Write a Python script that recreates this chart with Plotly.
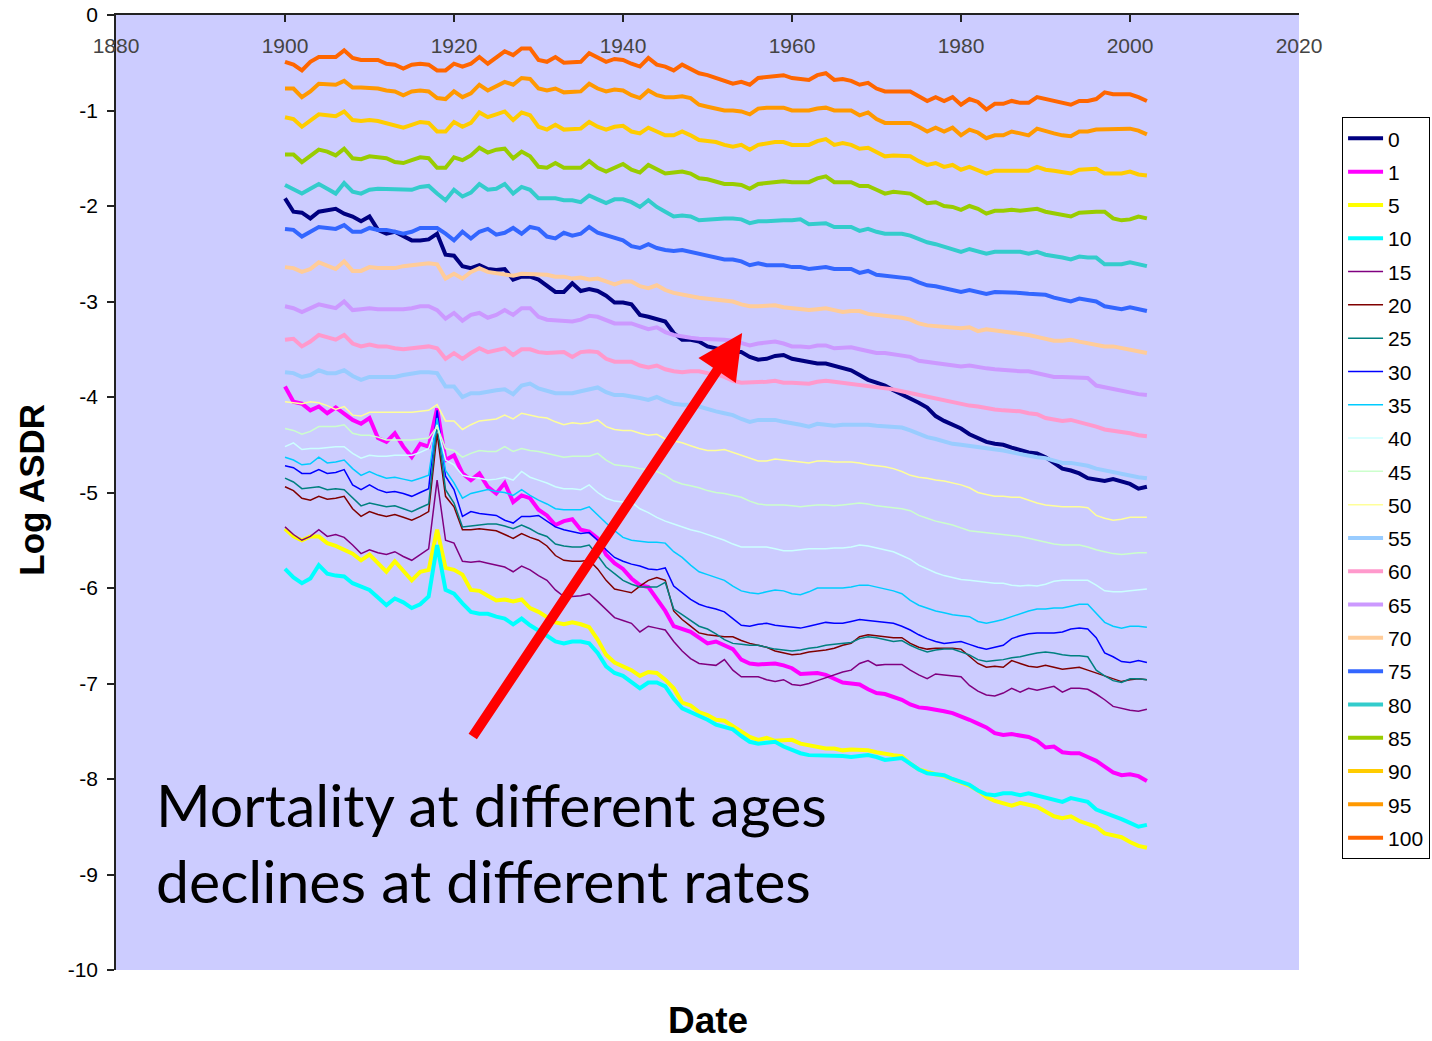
import plotly.graph_objects as go

# Calendar years covered by every series
years = list(range(1900, 2003))

# Log age-specific death rates (one list per age), 1900-2002
asdr_age0 = [
    -1.92, -2.06, -2.07, -2.13, -2.06, -2.04, -2.03, -2.08, -2.11, -2.16,
    -2.11, -2.25, -2.29, -2.27, -2.32, -2.36, -2.36, -2.35, -2.29, -2.51,
    -2.52, -2.63, -2.65, -2.62, -2.66, -2.67, -2.66, -2.77, -2.74, -2.74,
    -2.77, -2.83, -2.90, -2.90, -2.81, -2.89, -2.87, -2.89, -2.94, -3.01,
    -3.01, -3.03, -3.14, -3.16, -3.18, -3.21, -3.33, -3.40, -3.40, -3.42,
    -3.47, -3.49, -3.52, -3.53, -3.53, -3.58, -3.61, -3.60, -3.57, -3.56,
    -3.60, -3.62, -3.64, -3.65, -3.65, -3.67, -3.69, -3.72, -3.77, -3.82,
    -3.85, -3.88, -3.93, -3.97, -4.01, -4.06, -4.11, -4.20, -4.25, -4.29,
    -4.33, -4.39, -4.43, -4.47, -4.49, -4.50, -4.53, -4.56, -4.58, -4.59,
    -4.63, -4.69, -4.75, -4.77, -4.80, -4.85, -4.87, -4.88, -4.86, -4.88,
    -4.91, -4.96, -4.94,
]
asdr_age1 = [
    -3.89, -4.05, -4.07, -4.14, -4.10, -4.17, -4.11, -4.17, -4.24, -4.28,
    -4.22, -4.43, -4.47, -4.38, -4.52, -4.63, -4.49, -4.52, -4.12, -4.66,
    -4.61, -4.80, -4.87, -4.80, -4.94, -5.01, -4.90, -5.10, -5.03, -5.06,
    -5.18, -5.24, -5.34, -5.30, -5.28, -5.39, -5.41, -5.48, -5.65, -5.74,
    -5.80, -5.90, -5.97, -5.99, -6.11, -6.24, -6.40, -6.43, -6.46, -6.52,
    -6.58, -6.56, -6.60, -6.64, -6.75, -6.79, -6.80, -6.79, -6.79, -6.81,
    -6.84, -6.90, -6.90, -6.89, -6.91, -6.95, -6.99, -7.00, -7.01, -7.06,
    -7.10, -7.11, -7.14, -7.17, -7.22, -7.25, -7.26, -7.27, -7.29, -7.31,
    -7.34, -7.38, -7.42, -7.46, -7.52, -7.54, -7.53, -7.54, -7.56, -7.60,
    -7.67, -7.66, -7.72, -7.73, -7.73, -7.77, -7.81, -7.87, -7.93, -7.96,
    -7.95, -7.97, -8.02,
]
asdr_age5 = [
    -5.38, -5.46, -5.50, -5.46, -5.46, -5.53, -5.56, -5.60, -5.64, -5.71,
    -5.65, -5.74, -5.83, -5.72, -5.82, -5.92, -5.83, -5.81, -5.39, -5.79,
    -5.81, -5.86, -6.02, -6.03, -6.08, -6.13, -6.12, -6.14, -6.12, -6.21,
    -6.25, -6.31, -6.36, -6.38, -6.36, -6.38, -6.41, -6.54, -6.70, -6.78,
    -6.82, -6.86, -6.92, -6.88, -6.89, -6.96, -7.05, -7.20, -7.23, -7.30,
    -7.33, -7.38, -7.39, -7.45, -7.51, -7.56, -7.59, -7.57, -7.60, -7.60,
    -7.59, -7.63, -7.65, -7.67, -7.68, -7.68, -7.70, -7.69, -7.69, -7.70,
    -7.72, -7.74, -7.75, -7.76, -7.84, -7.90, -7.93, -7.95, -7.97, -8.00,
    -8.03, -8.07, -8.12, -8.19, -8.23, -8.26, -8.28, -8.25, -8.27, -8.29,
    -8.34, -8.39, -8.41, -8.39, -8.44, -8.47, -8.50, -8.57, -8.59, -8.61,
    -8.66, -8.70, -8.72,
]
asdr_age10 = [
    -5.80, -5.89, -5.95, -5.90, -5.76, -5.85, -5.87, -5.88, -5.95, -5.99,
    -6.02, -6.10, -6.18, -6.11, -6.15, -6.21, -6.17, -6.09, -5.55, -6.02,
    -6.06, -6.16, -6.25, -6.27, -6.27, -6.30, -6.32, -6.38, -6.32, -6.39,
    -6.44, -6.50, -6.56, -6.58, -6.56, -6.56, -6.58, -6.68, -6.82, -6.89,
    -6.92, -6.98, -7.05, -6.99, -6.99, -7.03, -7.16, -7.26, -7.30, -7.33,
    -7.38, -7.43, -7.45, -7.48, -7.55, -7.61, -7.63, -7.62, -7.61, -7.66,
    -7.70, -7.73, -7.75, -7.75, -7.76, -7.76, -7.76, -7.77, -7.76, -7.75,
    -7.77, -7.80, -7.79, -7.78, -7.84, -7.90, -7.94, -7.95, -7.96, -8.00,
    -8.03, -8.06, -8.12, -8.16, -8.17, -8.15, -8.15, -8.17, -8.15, -8.17,
    -8.20, -8.22, -8.24, -8.20, -8.22, -8.24, -8.32, -8.35, -8.38, -8.42,
    -8.46, -8.50, -8.48,
]
asdr_age15 = [
    -5.36, -5.44, -5.50, -5.46, -5.39, -5.46, -5.44, -5.47, -5.55, -5.64,
    -5.60, -5.63, -5.65, -5.62, -5.67, -5.71, -5.65, -5.59, -4.87, -5.50,
    -5.53, -5.72, -5.73, -5.72, -5.74, -5.76, -5.78, -5.83, -5.77, -5.81,
    -5.87, -5.92, -6.02, -6.09, -6.09, -6.08, -6.06, -6.14, -6.23, -6.31,
    -6.34, -6.37, -6.46, -6.40, -6.42, -6.44, -6.56, -6.66, -6.74, -6.79,
    -6.80, -6.81, -6.75, -6.86, -6.93, -6.93, -6.93, -6.96, -6.98, -6.96,
    -7.01, -7.02, -7.00, -6.97, -6.94, -6.91, -6.88, -6.86, -6.79, -6.76,
    -6.81, -6.80, -6.80, -6.80, -6.86, -6.91, -6.95, -6.90, -6.91, -6.92,
    -6.93, -7.02, -7.08, -7.12, -7.13, -7.10, -7.05, -7.09, -7.05, -7.07,
    -7.05, -7.03, -7.09, -7.05, -7.05, -7.06, -7.11, -7.17, -7.24, -7.26,
    -7.28, -7.29, -7.27,
]
asdr_age20 = [
    -4.94, -4.98, -5.06, -5.08, -5.04, -5.07, -5.06, -5.04, -5.17, -5.25,
    -5.20, -5.23, -5.25, -5.23, -5.26, -5.29, -5.25, -5.20, -4.38, -5.04,
    -5.15, -5.39, -5.39, -5.38, -5.39, -5.40, -5.44, -5.48, -5.43, -5.47,
    -5.50, -5.56, -5.66, -5.71, -5.72, -5.72, -5.71, -5.80, -5.92, -6.01,
    -6.03, -6.05, -5.98, -5.92, -5.89, -5.92, -6.24, -6.33, -6.40, -6.47,
    -6.49, -6.50, -6.51, -6.51, -6.55, -6.58, -6.60, -6.62, -6.66, -6.68,
    -6.70, -6.69, -6.67, -6.66, -6.65, -6.63, -6.60, -6.58, -6.51, -6.49,
    -6.50, -6.51, -6.52, -6.52, -6.58, -6.62, -6.64, -6.63, -6.63, -6.63,
    -6.64, -6.72, -6.79, -6.83, -6.82, -6.83, -6.76, -6.79, -6.82, -6.83,
    -6.81, -6.83, -6.85, -6.84, -6.83, -6.86, -6.89, -6.92, -6.95, -6.98,
    -6.96, -6.95, -6.96,
]
asdr_age25 = [
    -4.85, -4.89, -4.96, -4.95, -4.94, -4.97, -4.96, -4.97, -5.06, -5.14,
    -5.11, -5.13, -5.15, -5.14, -5.17, -5.20, -5.16, -5.12, -4.28, -4.97,
    -5.11, -5.36, -5.35, -5.34, -5.33, -5.33, -5.35, -5.38, -5.34, -5.38,
    -5.43, -5.46, -5.54, -5.56, -5.57, -5.57, -5.55, -5.66, -5.78, -5.85,
    -5.92, -5.96, -5.99, -5.99, -5.99, -5.94, -6.22, -6.28, -6.34, -6.40,
    -6.43, -6.48, -6.54, -6.58, -6.59, -6.60, -6.60, -6.62, -6.64, -6.65,
    -6.66, -6.65, -6.63, -6.62, -6.60, -6.59, -6.58, -6.57, -6.53, -6.51,
    -6.52, -6.54, -6.56, -6.55, -6.60, -6.64, -6.67, -6.65, -6.64, -6.64,
    -6.67, -6.70, -6.75, -6.77, -6.76, -6.75, -6.73, -6.72, -6.70, -6.68,
    -6.67, -6.68, -6.70, -6.71, -6.71, -6.72, -6.86, -6.92, -6.97, -6.99,
    -6.95, -6.95, -6.96,
]
asdr_age30 = [
    -4.72, -4.74, -4.80, -4.80, -4.76, -4.80, -4.79, -4.76, -4.92, -4.97,
    -4.92, -4.97, -5.00, -4.99, -5.01, -5.04, -5.00, -4.96, -4.14, -4.83,
    -4.97, -5.25, -5.20, -5.22, -5.23, -5.24, -5.29, -5.32, -5.25, -5.25,
    -5.24, -5.30, -5.36, -5.39, -5.41, -5.43, -5.42, -5.50, -5.60, -5.68,
    -5.72, -5.75, -5.77, -5.80, -5.81, -5.79, -5.98, -6.05, -6.12, -6.17,
    -6.20, -6.22, -6.25, -6.32, -6.39, -6.40, -6.38, -6.37, -6.39, -6.40,
    -6.41, -6.42, -6.40, -6.38, -6.36, -6.37, -6.37, -6.35, -6.33, -6.34,
    -6.35, -6.36, -6.37, -6.40, -6.44, -6.49, -6.53, -6.56, -6.58, -6.57,
    -6.56, -6.59, -6.62, -6.64, -6.62, -6.60, -6.53, -6.50, -6.48, -6.47,
    -6.47, -6.47, -6.46, -6.43, -6.42, -6.43, -6.52, -6.68, -6.72, -6.77,
    -6.78, -6.76, -6.78,
]
asdr_age35 = [
    -4.63, -4.66, -4.71, -4.70, -4.63, -4.69, -4.68, -4.66, -4.75, -4.82,
    -4.78, -4.82, -4.85, -4.84, -4.86, -4.88, -4.85, -4.82, -4.22, -4.77,
    -4.90, -5.06, -5.01, -4.99, -4.97, -4.99, -5.00, -5.03, -4.97, -5.03,
    -5.08, -5.12, -5.17, -5.18, -5.18, -5.18, -5.15, -5.24, -5.32, -5.40,
    -5.47, -5.50, -5.51, -5.52, -5.52, -5.53, -5.62, -5.68, -5.76, -5.83,
    -5.86, -5.89, -5.92, -5.98, -6.03, -6.05, -6.06, -6.04, -6.02, -6.03,
    -6.06, -6.07, -6.04, -6.00, -6.00, -6.00, -6.00, -5.99, -5.97, -5.97,
    -5.99, -6.01, -6.03, -6.06, -6.13, -6.18, -6.21, -6.24, -6.26, -6.28,
    -6.29, -6.30, -6.35, -6.37, -6.35, -6.33, -6.30, -6.27, -6.24, -6.22,
    -6.22, -6.21, -6.21, -6.19, -6.17, -6.17, -6.26, -6.36, -6.40, -6.42,
    -6.40, -6.40, -6.41,
]
asdr_age40 = [
    -4.52, -4.48, -4.55, -4.54, -4.54, -4.53, -4.52, -4.52, -4.59, -4.64,
    -4.61, -4.62, -4.62, -4.61, -4.61, -4.61, -4.58, -4.54, -4.29, -4.66,
    -4.71, -4.82, -4.84, -4.85, -4.87, -4.86, -4.84, -4.87, -4.78, -4.84,
    -4.87, -4.90, -4.94, -4.96, -4.96, -4.97, -4.92, -5.00, -5.06, -5.09,
    -5.10, -5.10, -5.17, -5.21, -5.26, -5.30, -5.33, -5.36, -5.39, -5.41,
    -5.44, -5.47, -5.50, -5.54, -5.57, -5.57, -5.57, -5.57, -5.59, -5.61,
    -5.61, -5.60, -5.59, -5.59, -5.59, -5.58, -5.58, -5.57, -5.55, -5.56,
    -5.58, -5.60, -5.62, -5.66, -5.70, -5.76, -5.80, -5.84, -5.87, -5.89,
    -5.91, -5.92, -5.93, -5.94, -5.95, -5.95, -5.97, -5.98, -5.97, -5.98,
    -5.96, -5.93, -5.92, -5.92, -5.92, -5.92, -5.97, -6.03, -6.04, -6.04,
    -6.03, -6.02, -6.01,
]
asdr_age45 = [
    -4.33, -4.35, -4.39, -4.36, -4.31, -4.31, -4.31, -4.29, -4.38, -4.40,
    -4.40, -4.42, -4.45, -4.45, -4.45, -4.45, -4.44, -4.43, -4.31, -4.54,
    -4.56, -4.63, -4.59, -4.56, -4.57, -4.57, -4.52, -4.57, -4.54, -4.56,
    -4.57, -4.59, -4.61, -4.63, -4.62, -4.62, -4.62, -4.59, -4.66, -4.71,
    -4.72, -4.73, -4.75, -4.76, -4.78, -4.82, -4.88, -4.91, -4.93, -4.95,
    -4.98, -5.00, -5.01, -5.03, -5.05, -5.09, -5.12, -5.13, -5.13, -5.13,
    -5.14, -5.15, -5.14, -5.13, -5.13, -5.14, -5.13, -5.12, -5.11, -5.12,
    -5.14, -5.15, -5.16, -5.17, -5.19, -5.24, -5.27, -5.30, -5.32, -5.34,
    -5.37, -5.40, -5.41, -5.42, -5.43, -5.44, -5.45, -5.46, -5.48, -5.50,
    -5.52, -5.54, -5.55, -5.55, -5.55, -5.57, -5.60, -5.62, -5.64, -5.65,
    -5.64, -5.63, -5.63,
]
asdr_age50 = [
    -4.05, -4.06, -4.07, -4.05, -4.06, -4.09, -4.13, -4.10, -4.19, -4.20,
    -4.16, -4.16, -4.16, -4.16, -4.16, -4.16, -4.15, -4.14, -4.08, -4.25,
    -4.25, -4.34, -4.29, -4.25, -4.24, -4.23, -4.19, -4.23, -4.17, -4.19,
    -4.21, -4.22, -4.26, -4.29, -4.27, -4.28, -4.27, -4.24, -4.31, -4.34,
    -4.35, -4.35, -4.38, -4.40, -4.39, -4.44, -4.46, -4.48, -4.51, -4.54,
    -4.56, -4.56, -4.55, -4.58, -4.61, -4.64, -4.67, -4.67, -4.65, -4.66,
    -4.67, -4.68, -4.69, -4.67, -4.67, -4.68, -4.68, -4.68, -4.69, -4.71,
    -4.72, -4.73, -4.75, -4.78, -4.82, -4.84, -4.85, -4.87, -4.88, -4.90,
    -4.92, -4.95, -5.00, -5.02, -5.04, -5.04, -5.05, -5.05, -5.08, -5.11,
    -5.13, -5.14, -5.15, -5.15, -5.15, -5.16, -5.24, -5.27, -5.29, -5.28,
    -5.26, -5.26, -5.26,
]
asdr_age55 = [
    -3.74, -3.75, -3.79, -3.77, -3.72, -3.75, -3.75, -3.72, -3.78, -3.82,
    -3.79, -3.79, -3.79, -3.79, -3.77, -3.75, -3.74, -3.74, -3.75, -3.89,
    -3.89, -4.00, -3.96, -3.96, -3.94, -3.93, -3.92, -3.97, -3.88, -3.86,
    -3.91, -3.93, -3.96, -3.96, -3.96, -3.94, -3.92, -3.90, -3.95, -3.98,
    -3.98, -3.99, -4.01, -4.03, -4.00, -4.04, -4.07, -4.08, -4.08, -4.10,
    -4.13, -4.15, -4.17, -4.19, -4.23, -4.26, -4.24, -4.24, -4.24, -4.26,
    -4.27, -4.29, -4.31, -4.28, -4.29, -4.30, -4.29, -4.29, -4.28, -4.29,
    -4.30, -4.31, -4.32, -4.32, -4.35, -4.39, -4.42, -4.44, -4.47, -4.49,
    -4.50, -4.51, -4.52, -4.54, -4.55, -4.56, -4.58, -4.60, -4.61, -4.63,
    -4.64, -4.67, -4.69, -4.69, -4.70, -4.72, -4.75, -4.77, -4.79, -4.80,
    -4.82, -4.84, -4.85,
]
asdr_age60 = [
    -3.40, -3.39, -3.47, -3.42, -3.35, -3.38, -3.40, -3.35, -3.44, -3.47,
    -3.45, -3.47, -3.47, -3.49, -3.50, -3.49, -3.48, -3.47, -3.49, -3.60,
    -3.54, -3.60, -3.54, -3.49, -3.53, -3.51, -3.49, -3.56, -3.50, -3.50,
    -3.53, -3.54, -3.54, -3.53, -3.58, -3.53, -3.52, -3.53, -3.60, -3.63,
    -3.63, -3.63, -3.67, -3.69, -3.67, -3.71, -3.73, -3.74, -3.73, -3.73,
    -3.75, -3.76, -3.79, -3.83, -3.85, -3.85, -3.85, -3.84, -3.83, -3.85,
    -3.85, -3.86, -3.86, -3.84, -3.83, -3.84, -3.85, -3.86, -3.87, -3.88,
    -3.89, -3.91, -3.92, -3.94, -3.96, -3.98, -4.00, -4.01, -4.03, -4.06,
    -4.08, -4.09, -4.10, -4.12, -4.13, -4.14, -4.14, -4.15, -4.17, -4.18,
    -4.22, -4.24, -4.25, -4.24, -4.26, -4.28, -4.31, -4.34, -4.35, -4.36,
    -4.38, -4.40, -4.41,
]
asdr_age65 = [
    -3.05, -3.07, -3.11, -3.07, -3.03, -3.05, -3.07, -3.00, -3.09, -3.08,
    -3.07, -3.08, -3.08, -3.09, -3.08, -3.07, -3.05, -3.05, -3.09, -3.18,
    -3.12, -3.20, -3.14, -3.12, -3.17, -3.14, -3.09, -3.14, -3.07, -3.07,
    -3.16, -3.19, -3.20, -3.21, -3.21, -3.19, -3.15, -3.16, -3.20, -3.23,
    -3.23, -3.23, -3.26, -3.29, -3.27, -3.32, -3.35, -3.37, -3.38, -3.39,
    -3.39, -3.40, -3.40, -3.41, -3.43, -3.46, -3.44, -3.43, -3.42, -3.44,
    -3.47, -3.47, -3.48, -3.46, -3.46, -3.49, -3.48, -3.48, -3.50, -3.52,
    -3.54, -3.54, -3.55, -3.56, -3.58, -3.62, -3.63, -3.65, -3.65, -3.66,
    -3.68, -3.67, -3.69, -3.70, -3.71, -3.72, -3.73, -3.73, -3.73, -3.75,
    -3.77, -3.79, -3.79, -3.79, -3.79, -3.80, -3.88, -3.90, -3.92, -3.93,
    -3.95, -3.97, -3.98,
]
asdr_age70 = [
    -2.64, -2.65, -2.69, -2.66, -2.59, -2.63, -2.66, -2.58, -2.68, -2.68,
    -2.64, -2.65, -2.65, -2.65, -2.63, -2.62, -2.61, -2.60, -2.61, -2.76,
    -2.71, -2.76, -2.69, -2.65, -2.69, -2.70, -2.71, -2.73, -2.71, -2.71,
    -2.72, -2.72, -2.74, -2.74, -2.76, -2.75, -2.77, -2.76, -2.79, -2.82,
    -2.79, -2.79, -2.84, -2.86, -2.83, -2.88, -2.91, -2.93, -2.94, -2.96,
    -2.97, -2.98, -2.99, -3.00, -3.03, -3.05, -3.05, -3.04, -3.04, -3.06,
    -3.07, -3.08, -3.09, -3.08, -3.07, -3.09, -3.11, -3.10, -3.10, -3.13,
    -3.14, -3.15, -3.15, -3.17, -3.19, -3.23, -3.25, -3.26, -3.27, -3.28,
    -3.28, -3.27, -3.31, -3.29, -3.30, -3.31, -3.32, -3.33, -3.35, -3.37,
    -3.39, -3.41, -3.41, -3.40, -3.42, -3.44, -3.46, -3.47, -3.47, -3.49,
    -3.51, -3.53, -3.54,
]
asdr_age75 = [
    -2.24, -2.25, -2.32, -2.27, -2.22, -2.23, -2.24, -2.20, -2.27, -2.27,
    -2.23, -2.25, -2.25, -2.27, -2.29, -2.27, -2.23, -2.23, -2.23, -2.29,
    -2.36, -2.27, -2.34, -2.27, -2.24, -2.30, -2.28, -2.23, -2.29, -2.22,
    -2.24, -2.32, -2.34, -2.28, -2.31, -2.29, -2.22, -2.28, -2.31, -2.33,
    -2.36, -2.42, -2.44, -2.40, -2.44, -2.46, -2.47, -2.46, -2.48, -2.50,
    -2.51, -2.54, -2.56, -2.56, -2.58, -2.62, -2.60, -2.62, -2.62, -2.62,
    -2.64, -2.64, -2.66, -2.65, -2.64, -2.66, -2.66, -2.66, -2.70, -2.68,
    -2.72, -2.73, -2.74, -2.74, -2.76, -2.80, -2.83, -2.84, -2.86, -2.87,
    -2.90, -2.88, -2.90, -2.92, -2.90, -2.90, -2.90, -2.91, -2.92, -2.92,
    -2.93, -2.96, -2.98, -3.00, -2.97, -2.98, -3.00, -3.05, -3.07, -3.08,
    -3.06, -3.08, -3.10,
]
asdr_age80 = [
    -1.78, -1.82, -1.87, -1.82, -1.77, -1.82, -1.87, -1.76, -1.85, -1.87,
    -1.83, -1.82, -1.82, -1.83, -1.83, -1.83, -1.80, -1.79, -1.87, -1.94,
    -1.83, -1.90, -1.86, -1.77, -1.83, -1.82, -1.77, -1.87, -1.80, -1.83,
    -1.92, -1.92, -1.92, -1.94, -1.94, -1.96, -1.89, -1.93, -1.97, -1.93,
    -1.93, -1.96, -2.01, -1.94, -2.01, -2.06, -2.11, -2.10, -2.11, -2.15,
    -2.14, -2.13, -2.13, -2.13, -2.14, -2.18, -2.16, -2.16, -2.15, -2.15,
    -2.15, -2.14, -2.19, -2.19, -2.18, -2.22, -2.22, -2.22, -2.26, -2.24,
    -2.27, -2.29, -2.29, -2.29, -2.31, -2.35, -2.38, -2.40, -2.43, -2.45,
    -2.48, -2.45, -2.48, -2.50, -2.48, -2.48, -2.48, -2.48, -2.50, -2.48,
    -2.51, -2.52, -2.54, -2.56, -2.53, -2.54, -2.54, -2.61, -2.61, -2.61,
    -2.59, -2.61, -2.63,
]
asdr_age85 = [
    -1.46, -1.46, -1.54, -1.48, -1.41, -1.43, -1.47, -1.40, -1.50, -1.51,
    -1.48, -1.49, -1.50, -1.54, -1.55, -1.52, -1.49, -1.50, -1.60, -1.60,
    -1.49, -1.52, -1.47, -1.39, -1.44, -1.41, -1.40, -1.50, -1.43, -1.48,
    -1.59, -1.60, -1.55, -1.60, -1.60, -1.60, -1.53, -1.60, -1.64, -1.60,
    -1.56, -1.62, -1.65, -1.57, -1.62, -1.66, -1.65, -1.64, -1.66, -1.71,
    -1.72, -1.74, -1.77, -1.77, -1.78, -1.82, -1.77, -1.76, -1.75, -1.74,
    -1.75, -1.75, -1.75, -1.71, -1.69, -1.75, -1.75, -1.75, -1.79, -1.79,
    -1.83, -1.87, -1.85, -1.86, -1.87, -1.92, -1.97, -1.96, -2.00, -2.01,
    -2.04, -2.00, -2.03, -2.08, -2.05, -2.05, -2.04, -2.05, -2.04, -2.03,
    -2.06, -2.08, -2.09, -2.11, -2.07, -2.06, -2.06, -2.06, -2.13, -2.15,
    -2.14, -2.11, -2.13,
]
asdr_age90 = [
    -1.07, -1.09, -1.17, -1.10, -1.04, -1.05, -1.06, -1.01, -1.10, -1.11,
    -1.10, -1.11, -1.13, -1.15, -1.18, -1.15, -1.12, -1.13, -1.22, -1.22,
    -1.12, -1.17, -1.13, -1.02, -1.07, -1.04, -1.01, -1.10, -1.02, -1.05,
    -1.17, -1.20, -1.15, -1.20, -1.20, -1.19, -1.12, -1.17, -1.20, -1.17,
    -1.16, -1.22, -1.24, -1.18, -1.22, -1.26, -1.26, -1.22, -1.26, -1.31,
    -1.32, -1.33, -1.36, -1.38, -1.36, -1.41, -1.36, -1.34, -1.33, -1.33,
    -1.36, -1.36, -1.36, -1.32, -1.30, -1.36, -1.34, -1.36, -1.40, -1.39,
    -1.44, -1.48, -1.47, -1.48, -1.48, -1.53, -1.57, -1.55, -1.59, -1.57,
    -1.62, -1.59, -1.62, -1.66, -1.63, -1.63, -1.62, -1.62, -1.63, -1.59,
    -1.62, -1.63, -1.64, -1.66, -1.62, -1.62, -1.61, -1.66, -1.66, -1.66,
    -1.64, -1.67, -1.68,
]
asdr_age95 = [
    -0.77, -0.77, -0.86, -0.80, -0.72, -0.72, -0.73, -0.69, -0.76, -0.76,
    -0.76, -0.77, -0.79, -0.80, -0.84, -0.80, -0.79, -0.80, -0.87, -0.88,
    -0.80, -0.86, -0.82, -0.73, -0.79, -0.75, -0.70, -0.73, -0.66, -0.67,
    -0.77, -0.79, -0.77, -0.81, -0.81, -0.80, -0.72, -0.77, -0.80, -0.78,
    -0.79, -0.84, -0.87, -0.79, -0.84, -0.86, -0.86, -0.85, -0.87, -0.94,
    -0.96, -0.98, -1.00, -1.00, -1.01, -1.04, -0.98, -0.97, -0.97, -0.97,
    -1.00, -1.00, -1.00, -0.98, -0.97, -1.00, -1.00, -1.00, -1.05, -1.02,
    -1.09, -1.13, -1.13, -1.13, -1.13, -1.17, -1.22, -1.18, -1.22, -1.18,
    -1.26, -1.20, -1.23, -1.29, -1.26, -1.26, -1.22, -1.24, -1.26, -1.19,
    -1.22, -1.24, -1.26, -1.27, -1.22, -1.22, -1.20, -1.20, -1.20, -1.20,
    -1.19, -1.21, -1.25,
]
asdr_age100 = [
    -0.49, -0.52, -0.58, -0.49, -0.44, -0.44, -0.44, -0.37, -0.45, -0.47,
    -0.47, -0.47, -0.51, -0.52, -0.56, -0.52, -0.51, -0.52, -0.58, -0.58,
    -0.51, -0.54, -0.51, -0.44, -0.51, -0.45, -0.38, -0.42, -0.35, -0.35,
    -0.47, -0.49, -0.44, -0.50, -0.50, -0.49, -0.40, -0.45, -0.49, -0.46,
    -0.47, -0.51, -0.54, -0.45, -0.52, -0.54, -0.58, -0.52, -0.56, -0.61,
    -0.63, -0.66, -0.69, -0.72, -0.70, -0.73, -0.66, -0.65, -0.63, -0.63,
    -0.66, -0.67, -0.68, -0.63, -0.61, -0.68, -0.67, -0.69, -0.73, -0.71,
    -0.77, -0.80, -0.80, -0.80, -0.80, -0.85, -0.90, -0.86, -0.90, -0.86,
    -0.94, -0.88, -0.91, -0.99, -0.93, -0.93, -0.90, -0.92, -0.92, -0.86,
    -0.88, -0.91, -0.93, -0.94, -0.90, -0.90, -0.88, -0.81, -0.83, -0.83,
    -0.83, -0.86, -0.90,
]

age_labels = ["0", "1", "5", "10", "15", "20", "25", "30", "35", "40", "45",
              "50", "55", "60", "65", "70", "75", "80", "85", "90", "95", "100"]

# Series drawing order, colours and widths (heavy lines except ages 15-50)
series = [
    (asdr_age0, "#000080", 4),
    (asdr_age1, "#FF00FF", 4),
    (asdr_age5, "#FFFF00", 4),
    (asdr_age10, "#00FFFF", 4),
    (asdr_age15, "#800080", 1.5),
    (asdr_age20, "#800000", 1.5),
    (asdr_age25, "#008080", 1.5),
    (asdr_age30, "#0000FF", 1.5),
    (asdr_age35, "#00CCFF", 1.5),
    (asdr_age40, "#CCFFFF", 1.5),
    (asdr_age45, "#CCFFCC", 1.5),
    (asdr_age50, "#FFFF99", 1.5),
    (asdr_age55, "#99CCFF", 4),
    (asdr_age60, "#FF99CC", 4),
    (asdr_age65, "#CC99FF", 4),
    (asdr_age70, "#FFCC99", 4),
    (asdr_age75, "#3366FF", 4),
    (asdr_age80, "#33CCCC", 4),
    (asdr_age85, "#99CC00", 4),
    (asdr_age90, "#FFCC00", 4),
    (asdr_age95, "#FF9900", 4),
    (asdr_age100, "#FF6600", 4),
]

x_ticks = [1880, 1900, 1920, 1940, 1960, 1980, 2000, 2020]
y_ticks = [0, -1, -2, -3, -4, -5, -6, -7, -8, -9, -10]

fig = go.Figure()
for label, (values, color, width) in zip(age_labels, series):
    assert len(values) == len(years), label
    fig.add_trace(go.Scatter(
        x=years, y=values, mode="lines", name=label, legendgroup=label,
        line=dict(color=color, width=width),
    ))

axis_color = "#222222"
fig.update_layout(
    width=1432, height=1041,
    margin=dict(l=116, r=133, t=15, b=71, autoexpand=False),
    paper_bgcolor="white",
    plot_bgcolor="#CCCCFF",
    font=dict(family="Liberation Sans, Arial, sans-serif", size=21, color="black"),
    showlegend=True,
    legend=dict(
        x=1.0364, y=0.893, xanchor="left", yanchor="top",
        bgcolor="white", bordercolor="black", borderwidth=1,
        font=dict(size=21), tracegroupgap=3, itemwidth=35,
    ),
    xaxis=dict(
        range=[1880, 2020], side="top", showgrid=False, zeroline=False,
        automargin=False,
        showline=True, linecolor=axis_color, linewidth=1.5,
        ticks="inside", ticklen=7, tickcolor=axis_color, tickwidth=1.5,
        ticklabelposition="inside", ticklabeloverflow="allow",
        ticklabelstandoff=18,
        tickvals=x_ticks, ticktext=[str(v) for v in x_ticks],
    ),
    yaxis=dict(
        range=[-10, 0], showgrid=False, zeroline=False,
        automargin=False,
        showline=True, linecolor=axis_color, linewidth=1.5,
        ticks="outside", ticklen=7, tickcolor=axis_color, tickwidth=1.5,
        ticklabeloverflow="allow", ticklabelstandoff=5,
        tickvals=y_ticks, ticktext=[str(v) for v in y_ticks],
    ),
)

# Axis titles
fig.add_annotation(
    text="<b>Log ASDR</b>", xref="paper", yref="paper", x=-0.071, y=0.503,
    xanchor="center", yanchor="middle",
    textangle=-90, showarrow=False, font=dict(size=35, color="black"),
)
fig.add_annotation(
    text="<b>Date</b>", xref="paper", yref="paper", x=0.5004, y=-0.0524,
    xanchor="center", yanchor="middle",
    showarrow=False, font=dict(size=37, color="black"),
)

# Red arrow pointing up to the steep infant-mortality decline
fig.add_annotation(
    x=1954.1, y=-3.33, ax=1922.1, ay=-7.57, xref="x", yref="y",
    axref="x", ayref="y", text="", showarrow=True,
    arrowhead=2, arrowsize=0.9, arrowwidth=10, arrowcolor="#FF0000",
)

# Caption
caption_font = dict(family="Lato, Open Sans, sans-serif", size=59, color="black")
fig.add_annotation(
    text="Mortality at different ages", xref="paper", yref="y",
    x=0.032, y=-8.27, xanchor="left", yanchor="middle",
    showarrow=False, font=caption_font,
)
fig.add_annotation(
    text="declines at different rates", xref="paper", yref="y",
    x=0.032, y=-9.06, xanchor="left", yanchor="middle",
    showarrow=False, font=caption_font,
)

fig.write_html("out.html")
